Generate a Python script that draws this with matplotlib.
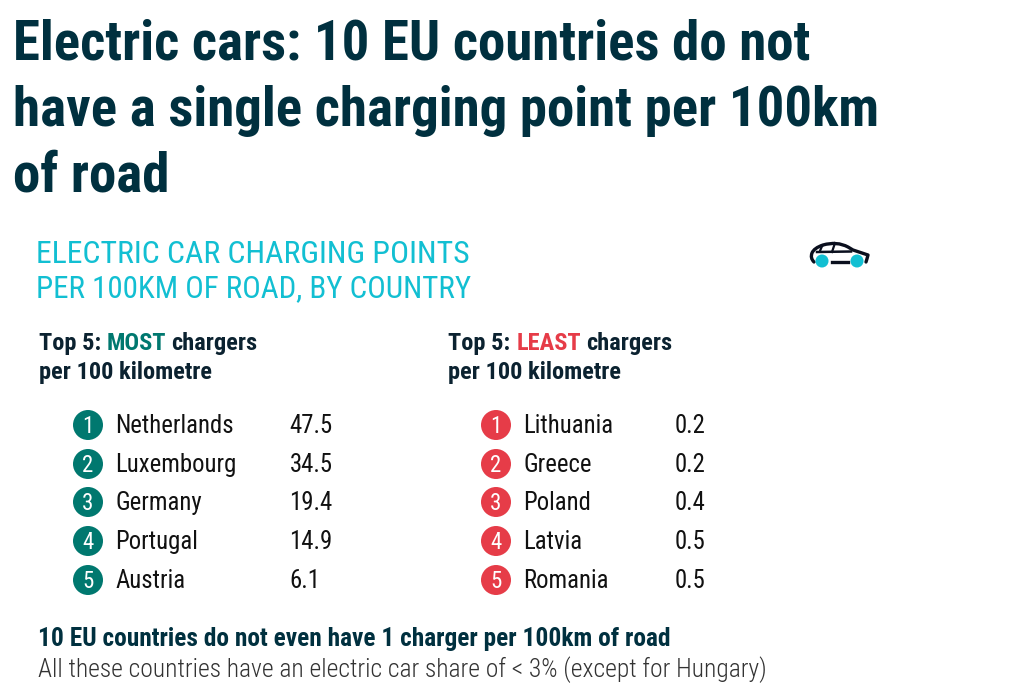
import matplotlib
matplotlib.use("Agg")
import matplotlib.pyplot as plt
from matplotlib.patches import Circle, PathPatch
from matplotlib.path import Path

FAM = "Roboto Condensed"

title_lines = ["Electric cars: 10 EU countries do not", "have a single charging point per 100km", "of road"]
most_names = ["Netherlands", "Luxembourg", "Germany", "Portugal", "Austria"]
most_values = ["47.5", "34.5", "19.4", "14.9", "6.1"]
least_names = ["Lithuania", "Greece", "Poland", "Latvia", "Romania"]
least_values = ["0.2", "0.2", "0.4", "0.5", "0.5"]

NAVY = "#00303f"; CYAN = "#12bfd2"; TEAL = "#00786f"; RED = "#e63c48"; DARK = "#0b2230"

fig = plt.figure(figsize=(10.26, 6.96), dpi=100, facecolor="white")
ax = fig.add_axes([0, 0, 1, 1])
ax.set_xlim(0, 1026); ax.set_ylim(696, 0); ax.axis("off")

def T(x, y, s, size, color=DARK, weight="normal", ha="left", va="baseline"):
    return ax.text(x, y, s, fontsize=size, color=color, fontweight=weight, ha=ha, va=va, family=FAM)

for y, s in zip([60, 126, 192], title_lines):
    T(13, y, s, 39.5, NAVY, "bold")
T(36, 263, "ELECTRIC CAR CHARGING POINTS", 22.9, CYAN)
T(36, 297, "PER 100KM OF ROAD, BY COUNTRY", 22.3, CYAN)

def head(x, y, word, col):
    a = T(x, y, "Top 5:", 17.6, DARK, "bold")
    fig.canvas.draw()
    r = fig.canvas.get_renderer()
    x1 = ax.transData.inverted().transform(a.get_window_extent(r))[1][0] + 6
    b = T(x1, y, word, 17.6, col, "bold")
    x2 = ax.transData.inverted().transform(b.get_window_extent(r))[1][0] + 5
    T(x2, y, "chargers", 17.6, DARK, "bold")
    T(x, y + 29, "per 100 kilometre", 17.6, DARK, "bold")
head(39, 350, "MOST", TEAL)
head(448, 350, "LEAST", RED)

ys = [425, 464, 502, 541, 580]
def block(xc, xn, xv, nm, vals, col):
    for i, (y, n, v) in enumerate(zip(ys, nm, vals)):
        ax.add_patch(Circle((xc, y), 15, color=col, lw=0))
        T(xc, y + 8, str(i + 1), 16.5, "white", ha="center")
        T(xn - 0.6, y + 8, n, 17.8, "#111111")
        T(xv - 0.6, y + 8, v, 17.8, "#111111")
block(88, 116, 290, most_names, most_values, TEAL)
block(496, 524, 675.4, least_names, least_values, RED)

T(38, 646, "10 EU countries do not even have 1 charger per 100km of road", 18.3, NAVY, "bold")
T(38, 677, "All these countries have an electric car share of < 3% (except for Hungary)", 18.35, "#333333", "light")

# car icon
INK = "#0a0f1e"
C3, L, M = Path.CURVE3, Path.LINETO, Path.MOVETO
body = Path([(814,262),(810,258),(812,253),(814,248),(823,245),(837,241),(848,247),(853,250),(862,253),(868,255),(867,259),(866,262)],
            [M,C3,C3,C3,C3,C3,C3,L,C3,C3,C3,C3])
ax.add_patch(PathPatch(body, fill=False, ec=INK, lw=2.4, joinstyle="round", capstyle="round"))
ax.plot([817,851],[252,251.5], color=INK, lw=1.8)
ax.plot([832,848],[262,262], color=INK, lw=2.4)
ax.plot([835,832],[243,252], color=INK, lw=1.6)
ax.add_patch(PathPatch(Path([(823,245),(820,249),(820,252)],[M,C3,C3]), fill=False, ec=INK, lw=1.6))
ax.add_patch(Circle((822,261), 6.5, color=CYAN, lw=0, zorder=3))
ax.add_patch(Circle((857,261), 6.5, color=CYAN, lw=0, zorder=3))
fig.savefig("out.png", dpi=100, facecolor="white")
